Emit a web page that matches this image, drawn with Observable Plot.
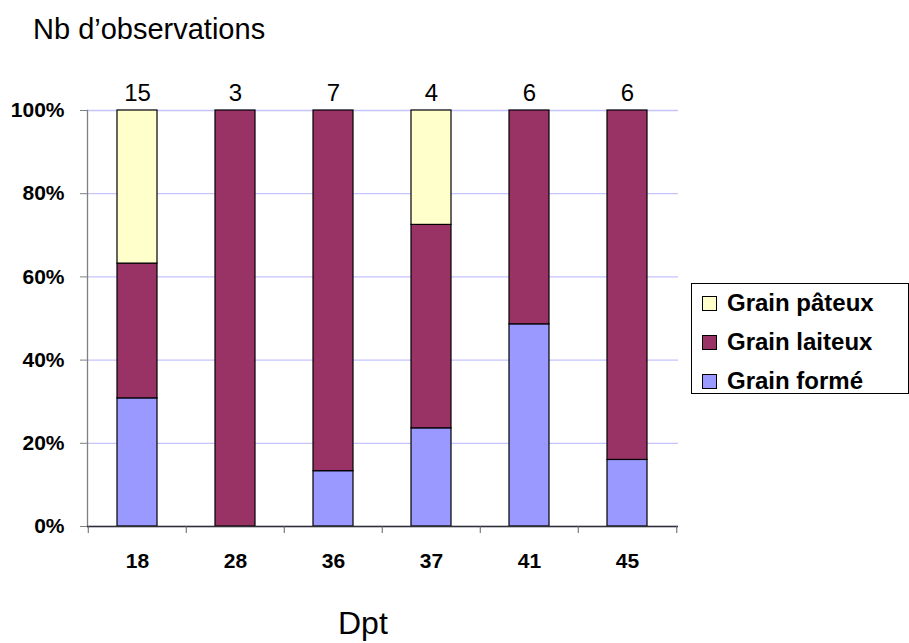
<!DOCTYPE html>
<html>
<head>
<meta charset="utf-8">
<script src="https://cdn.jsdelivr.net/npm/d3@7"></script>
<script src="https://cdn.jsdelivr.net/npm/@observablehq/plot@0.6"></script>
<style>
  body { margin: 0; background: #fff; }
  #wrap { position: relative; width: 909px; height: 643px; font-family: "Liberation Sans", Arial, sans-serif; overflow: hidden; }
  #wrap svg { position: absolute; left: 0; top: 0; }
  .ov { position: absolute; white-space: nowrap; color: #000; }
  #legend { position: absolute; left: 691px; top: 283px; width: 216px; height: 109px; border: 1.5px solid #000; background: #fff; }
  .row { position: absolute; left: 10px; height: 24px; display: flex; align-items: center; font-weight: bold; font-size: 24px; }
  .sw { width: 13px; height: 13px; border: 1.5px solid #000; margin-right: 10px; }
</style>
</head>
<body>
<div id="wrap"></div>
<script>
const categories = ["18", "28", "36", "37", "41", "45"];
const counts = [15, 3, 7, 4, 6, 6];
const types = ["Grain formé", "Grain laiteux", "Grain pâteux"];
const colors = ["#9999FF", "#993366", "#FFFFCC"];
const grainForme   = [0.308, 0.000, 0.133, 0.236, 0.486, 0.160];
const grainLaiteux = [0.324, 1.000, 0.867, 0.489, 0.514, 0.840];
const grainPateux  = [0.368, 0.000, 0.000, 0.275, 0.000, 0.000];
const yTicks = [0, 0.2, 0.4, 0.6, 0.8, 1];

const series = [grainForme, grainLaiteux, grainPateux];
const data = [];
categories.forEach((c, i) => {
  types.forEach((t, k) => data.push({dpt: c, type: t, share: series[k][i]}));
});
const labels = categories.map((c, i) => ({dpt: c, n: counts[i]}));

const W = 909, H = 643, mL = 87, mR = 231, mT = 110, mB = 117;
const step = (W - mL - mR) / categories.length;

const chart = Plot.plot({
  width: W, height: H,
  marginLeft: mL, marginRight: mR, marginTop: mT, marginBottom: mB,
  style: {fontFamily: "'Liberation Sans', Arial, sans-serif", background: "transparent"},
  x: {domain: categories, paddingInner: 0.59, paddingOuter: 0.295, label: null},
  y: {domain: [0, 1], label: null},
  color: {domain: types, range: colors},
  marks: [
    Plot.gridY(yTicks, {stroke: "#c4c4ff", strokeOpacity: 1, strokeWidth: 1.3}),
    Plot.barY(data, {x: "dpt", y: "share", fill: "type", stroke: "#000", strokeWidth: 1.2}),
    Plot.frame({anchor: "left", stroke: "#808080", strokeWidth: 1.3}),
    Plot.ruleY([0], {stroke: "#303030", strokeWidth: 1.3}),
    Plot.axisY({ticks: yTicks, tickFormat: d3.format(".0%"), tickSize: 7, tickPadding: 16,
      fontSize: 21, fontWeight: "bold", stroke: "#808080", fill: "#000", label: null}),
    Plot.axisX({tickSize: 7, tickPadding: 0, tickFormat: () => "", dx: -step / 2, stroke: "#606060", label: null}),
    Plot.axisX({ticks: [categories[categories.length - 1]], tickSize: 7, tickFormat: () => "", dx: step / 2, stroke: "#606060", label: null}),
    Plot.axisX({tickSize: 0, tickPadding: 27, fontSize: 21, fontWeight: "bold", fill: "#000", label: null}),
    Plot.text(labels, {x: "dpt", y: () => 1, text: d => String(d.n), lineAnchor: "bottom", dy: -10, fontSize: 24, fill: "#000"})
  ]
});

const wrap = document.getElementById("wrap");
wrap.appendChild(chart);

const title = document.createElement("div");
title.className = "ov";
title.style.cssText = "left:33px; top:13px; font-size:29px;";
title.textContent = "Nb d’observations";
wrap.appendChild(title);

const xl = document.createElement("div");
xl.className = "ov";
xl.style.cssText = "left:338px; top:605px; font-size:32px;";
xl.textContent = "Dpt";
wrap.appendChild(xl);

const legend = document.createElement("div");
legend.id = "legend";
const order = [2, 1, 0];
const tops = [7, 46, 85];
order.forEach((k, j) => {
  const row = document.createElement("div");
  row.className = "row";
  row.style.top = tops[j] + "px";
  const sw = document.createElement("span");
  sw.className = "sw";
  sw.style.background = colors[k];
  const tx = document.createElement("span");
  tx.textContent = types[k];
  row.appendChild(sw);
  row.appendChild(tx);
  legend.appendChild(row);
});
wrap.appendChild(legend);
</script>
</body>
</html>
